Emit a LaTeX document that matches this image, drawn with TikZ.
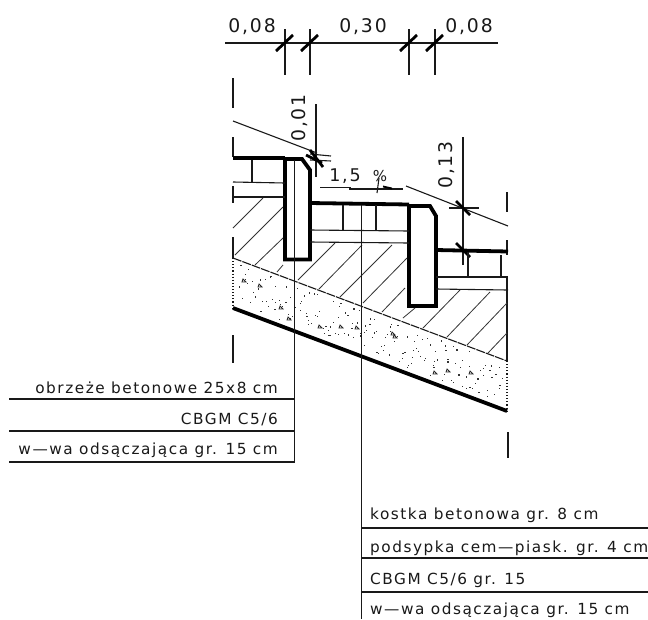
\documentclass[tikz,border=0pt]{standalone}
\usepackage{fontspec}
\setmainfont{DejaVu Sans}[LetterSpace=10]
\pgfmathsetseed{4242}
\tikzset{
  cad/.style={line width=1.1pt,black!90},
  heavy/.style={line width=3.8pt,black,line cap=butt,line join=miter},
  hatchline/.style={line width=0.8pt,black!80},
  tick/.style={line width=2.8pt,black},
  lbl/.style={inner sep=0pt,font=\fontsize{15.3}{17}\selectfont,text=black!90},
  dimt/.style={inner sep=0pt,font=\fontsize{18.8}{21}\selectfont,text=black!90},
}
\begin{document}
\begin{tikzpicture}[x=1pt,y=-1pt]
\useasboundingbox (0,0) rectangle (648,619);
\fill[white] (0,0) rectangle (648,619);
% dimension chain
\coordinate (d1) at (225,43); \coordinate (d2) at (498,43);
\draw[cad] (d1) -- (d2);
\foreach \x in {285,310,409,435}{
  \draw[cad] (\x,29) -- (\x,75);
  \draw[tick] (\x-9,51) -- (\x+8,35);
}
\node[dimt] (t1) at (252,27) {0,08};
\node[dimt] (t2) at (363,27) {0,30};
\node[dimt] (t3) at (469,27) {0,08};
% centre / section marks
\draw[cad] (233,78) -- (233,108);
\draw[cad] (233,137) -- (233,157);
\draw[cad] (233,186) -- (233,203);
\draw[cad] (233,237) -- (233,258);
\draw[cad,dotted] (233,258) -- (233,308);
\draw[cad] (233,335) -- (233,363);
\draw[cad] (507,192) -- (507,212);
\draw[cad] (507,240) -- (507,255);
\draw[cad] (507,277) -- (507,361);
\draw[cad,dotted] (507,361) -- (507,411);
\draw[cad] (508,432) -- (508,458);
% slope lines
\draw[cad] (233,121) -- (317,153);
\draw[cad] (406,186) -- (508,226);
% slope label
\node[dimt,font=\fontsize{17.5}{19}\selectfont] (s1) at (345,176) {1,5};
\node[dimt,font=\fontsize{15}{17}\selectfont] (s2) at (380,176) {\%};
\draw[cad] (320,187.5) -- (350,187.5) -- (350,189) -- (403,189);
\draw[cad] (379,178) -- (377,193);
\draw[line width=1.8pt] (383,186.5) -- (392,188.5);
% 0,01
\node[dimt,rotate=90] (t4) at (300,118) {0,01};
\draw[cad] (316,104) -- (316,177);
\draw[cad] (310,154) -- (331,156);
\draw[cad] (310,160) -- (331,161);
\draw[tick] (310,150) -- (323,167);
\draw[tick] (306,155) -- (322,163);
% 0,13
\node[dimt,rotate=90] (t5) at (447,165) {0,13};
\draw[cad] (463,137) -- (463,265);
\draw[cad] (449,208) -- (479,208);
\draw[tick] (456,201) -- (470,215);
\draw[tick] (456,243) -- (470,257);
% surfaces and kerbs
\draw[heavy] (233,158) -- (285,158);
\draw[heavy] (285,157) -- (285,259.5) -- (310,259.5) -- (310,170) -- (302,159) -- (285,159);
\draw[heavy] (310,203) -- (409,204.5);
\draw[heavy] (409,204) -- (409,306) -- (436,306) -- (436,216) -- (430,206) -- (409,206);
\draw[heavy] (436,250) -- (508,251.5);
% paving left
\draw[cad] (252,160) -- (252,182);
\draw[cad] (233,182) -- (285,183);
\draw[cad] (233,197) -- (285,197);
% paving middle
\draw[cad] (343,205) -- (343,230);
\draw[cad] (376,205) -- (376,230);
\draw[cad] (310,230) -- (409,231);
\draw[cad] (310,242) -- (409,243);
% paving right
\draw[cad] (468,252) -- (468,277);
\draw[cad] (501,255) -- (501,277);
\draw[cad] (436,277) -- (508,277);
\draw[cad] (436,289) -- (508,290);
% hatching
\foreach \a/\b/\c/\d in {233/228/263/198,235/255/283/207,255/265/283/238,277/272/283/265,
  298/280/335/243,319/289/362/245,340/297/392/245,363/303/407/258,382/312/405/288,403/318/415/308,
  423/328/460/290,447/337/490/292,467/345/507/303,488/353/507/333}{
  \draw[hatchline] (\a,\b) -- (\c,\d);
}
% layers
\draw[cad,dash pattern=on 9pt off 1pt] (233,258) -- (507,361);
\draw[heavy] (233,308) -- (507,411);
% stipple, spread evenly along the layer
\foreach \i in {1,...,170}{
  \pgfmathsetmacro{\tx}{rnd}
  \pgfmathsetmacro{\ty}{rnd}
  \pgfmathsetmacro{\px}{236+1.55*\i+4*\tx}
  \pgfmathsetmacro{\py}{262+(\px-233)*0.376+40*\ty}
  \fill[black!80] (\px,\py) rectangle (\px+1.2,\py+1.2);
}
\foreach \px/\py in {243/279,259/284,280/306,288/317,319/325,340/325,356/326,392/332,394/335,434/371,447/369,470/371}{
  \draw[line width=0.8pt,black!85] (\px,\py) -- (\px+3,\py+3) -- (\px-1,\py+3) -- cycle;
}
% leaders
\coordinate (la) at (294.5,160); \coordinate (lb) at (294.5,462);
\draw[cad] (la) -- (lb);
\coordinate (lc) at (361.5,205); \coordinate (ld) at (361.5,619);
\draw[cad] (lc) -- (ld);
% left labels
\draw[cad] (9,399) -- (294.5,399);
\draw[cad] (9,431) -- (294.5,431);
\draw[cad] (9,462) -- (294.5,462);
\node[lbl,anchor=east] (a1) at (278,388) {obrzeże betonowe 25x8 cm};
\node[lbl,anchor=east] (a2) at (278,420) {CBGM C5/6};
\node[lbl,anchor=east] (a3) at (278,450) {w—wa odsączająca gr. 15 cm};
% right labels
\draw[cad] (361.5,528) -- (648,528);
\draw[cad] (361.5,558) -- (648,558);
\draw[cad] (361.5,592) -- (648,592);
\node[lbl,anchor=west] (b1) at (370,515) {kostka betonowa gr. 8 cm};
\node[lbl,anchor=west] (b2) at (370,548) {podsypka cem—piask. gr. 4 cm};
\node[lbl,anchor=west] (b3) at (370,580) {CBGM C5/6 gr. 15};
\node[lbl,anchor=west] (b4) at (370,610) {w—wa odsączająca gr. 15 cm};
\end{tikzpicture}
\end{document}
